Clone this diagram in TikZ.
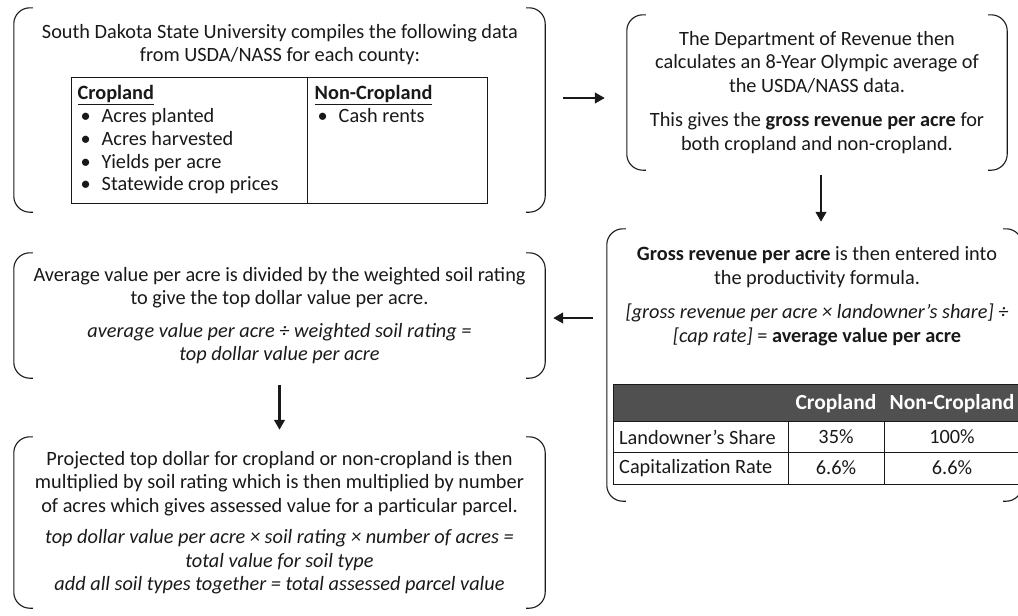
\documentclass[tikz,border=0pt]{standalone}
\usepackage{fontspec}
\setmainfont{Carlito}
\usetikzlibrary{arrows.meta}
\definecolor{ink}{RGB}{25,25,25}
\definecolor{hdrfill}{RGB}{80,80,80}
\newcommand\bul{\hspace*{3pt}\makebox[21pt][l]{•}}
\newcommand\brackbox[1]{%
  \draw[brkline] ([xshift=19pt]#1.north west) -- (#1.north west) -- (#1.south west) -- ([xshift=19pt]#1.south west);
  \draw[brkline] ([xshift=-19pt]#1.north east) -- (#1.north east) -- (#1.south east) -- ([xshift=-19pt]#1.south east);}
\begin{document}
\begin{tikzpicture}[x=1pt,y=-1pt,
  txt/.style={font=\fontsize{20.3}{23.5}\selectfont, inner sep=0pt, align=center, text=ink},
  frm/.style={inner sep=0pt, font=\fontsize{20.3}{23.5}\selectfont, align=center, text=ink},
  hdr/.style={inner sep=0pt, text=white, font=\fontsize{21.5}{23.5}\selectfont\bfseries},
  brkline/.style={draw=ink, line width=1.1pt, rounded corners=16pt},
  arr/.style={draw=ink, line width=2.6pt, -{Triangle[length=10pt,width=10.5pt]}},
  tline/.style={draw=ink, line width=1pt}]
\useasboundingbox (0,0) rectangle (1018,616);

% frames
\node[frm, minimum width=531pt, minimum height=204pt] (b1) at (279.5,110) {};
\node[frm, minimum width=380pt, minimum height=155pt] (b2) at (817,92.5)
  {The Department of Revenue then\\calculates an 8-Year Olympic average of\\the USDA/NASS data.\\[11pt]
   This gives the \textbf{gross revenue per acre} for\\both cropland and non-cropland.};
\node[frm, minimum width=415pt, minimum height=272pt] (b3) at (814.5,365) {};
\node[frm, minimum width=531pt, minimum height=125pt] (b4) at (279.5,315.5)
  {Average value per acre is divided by the weighted soil rating\\to give the top dollar value per acre.\\[9pt]
   \textit{average value per acre ÷ weighted soil rating =}\\\textit{top dollar value per acre}};
\node[frm, minimum width=531pt, minimum height=171pt] (b5) at (279.5,522.5)
  {Projected top dollar for cropland or non-cropland is then\\multiplied by soil rating which is then multiplied by number\\of acres which gives assessed value for a particular parcel.\\[8pt]
   \textit{top dollar value per acre × soil rating × number of acres =}\\\textit{total value for soil type}\\\textit{add all soil types together = total assessed parcel value}};

\brackbox{b1}\brackbox{b2}\brackbox{b3}\brackbox{b4}\brackbox{b5}

% box 1 content
\node[txt] (t1) at (280,44.5) {South Dakota State University compiles the following data\\from USDA/NASS for each county:};
\node[draw=ink, line width=1pt, inner sep=0pt, minimum width=416pt, minimum height=126pt] (tb1) at (279,140) {};
\draw[tline] ([xshift=237pt]tb1.north west) -- ([xshift=237pt]tb1.south west);
\node[txt, anchor=north west, align=left, font=\fontsize{20.3}{22.7}\selectfont] (c1) at ([xshift=7pt,yshift=-9pt]tb1.north west)
  {\textbf{\underline{Cropland}}\\\bul Acres planted\\\bul Acres harvested\\\bul Yields per acre\\\bul Statewide crop prices};
\node[txt, anchor=north west, align=left, font=\fontsize{20.3}{22.7}\selectfont] (c2) at ([xshift=244pt,yshift=-9pt]tb1.north west)
  {\textbf{\underline{Non-Cropland}}\\\bul Cash rents};

% box 3 content
\node[txt] (t3) at (817,296) {\textbf{Gross revenue per acre} is then entered into\\the productivity formula.\\[11pt]
  \textit{[gross revenue per acre × landowner’s share] ÷}\\\textit{[cap rate]} = \textbf{average value per acre}};
\fill[hdrfill] (613,384) rectangle (1030,421);
\draw[tline] (613,384) -- (1030,384);
\draw[tline] (613,384) -- (613,484);
\draw[tline] (613,421) -- (1030,421);
\draw[tline] (613,452) -- (1030,452);
\draw[tline] (613,484) -- (1030,484);
\draw[tline] (788,421) -- (788,484);
\draw[tline] (884,421) -- (884,484);
\node[hdr] (h1) at (836,404) {Cropland};
\node[hdr] (h2) at (952,404) {Non-Cropland};
\node[txt, anchor=west] (r1) at (619,437) {Landowner’s Share};
\node[txt] (r1a) at (836,437) {35\%};
\node[txt] (r1b) at (952,437) {100\%};
\node[txt, anchor=west] (r2) at (619,468) {Capitalization Rate};
\node[txt] (r2a) at (836,468) {6.6\%};
\node[txt] (r2b) at (952,468) {6.6\%};

% arrows
\draw[arr] ([xshift=18pt,yshift=12pt]b1.east) -- ([xshift=-22pt,yshift=-5.5pt]b2.west);
\draw[arr] ([xshift=4pt,yshift=-5pt]b2.south) -- ([xshift=6.5pt,yshift=7pt]b3.north);
\draw[arr] ([xshift=-14pt,yshift=47pt]b3.west) -- ([xshift=8pt,yshift=-2.5pt]b4.east);
\draw[arr] ([yshift=-7pt]b4.south) -- ([yshift=7pt]b5.north);
\end{tikzpicture}
\end{document}
